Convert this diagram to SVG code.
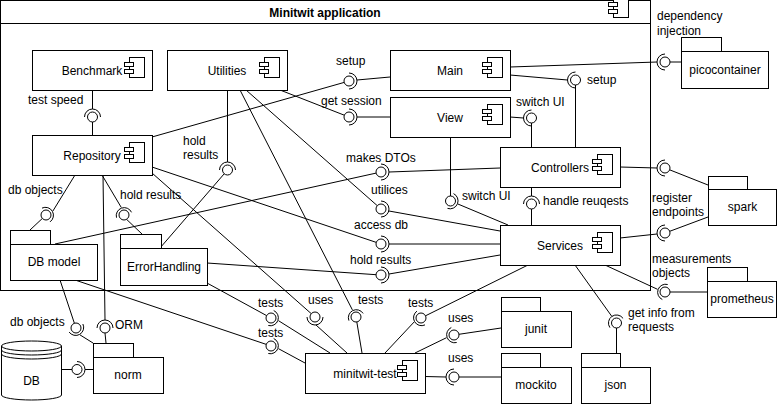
<svg xmlns="http://www.w3.org/2000/svg" width="778" height="404" viewBox="0 0 778 404">
<style>
.box{fill:#fff;stroke:#000;stroke-width:1}
.ln{fill:none;stroke:#000;stroke-width:1}
.ball{fill:#fff;stroke:#000;stroke-width:1}
.sock{fill:none;stroke:#000;stroke-width:1}
text{font-family:"Liberation Sans",Arial,Helvetica,sans-serif;font-size:12px;fill:#000}
.c{text-anchor:middle}
.b{font-weight:bold}
</style>
<defs>
<g id="cicon">
<rect x="5" y="0" width="15" height="20" class="box"/>
<rect x="0" y="5" width="9" height="4" class="box"/>
<rect x="0" y="12" width="9" height="4" class="box"/>
</g>
</defs>
<g id="frame">
<rect x="0.5" y="0.5" width="650" height="290" class="box"/>
<line x1="0.5" y1="23.5" x2="650.5" y2="23.5" class="ln"/>
<text x="325" y="17" class="c b">Minitwit application</text>
<use href="#cicon" x="608.5" y="-2.5"/>
</g>
<g id="connectors" class="ln">
<path d="M92.5,90 V109 M92.5,122 V135"/>
<path d="M390,77 L357,80 M152,137 L344.2,82.4"/>
<path d="M390,117 L357,117 M280,90 L344.3,115.2"/>
<path d="M510,67 L657,62 M670,62 L681,62"/>
<path d="M510,75 L567.5,80 M575.5,85 V147"/>
<path d="M510,117 L523.5,118 M531.5,123 V147"/>
<path d="M450.5,137 V196 M457.9,204 L508,225"/>
<path d="M531.5,187 V196 M531.5,209 V225"/>
<path d="M620,167 L657,168 M669.6,169.8 L708,185"/>
<path d="M620,238 L657,234 M669.7,231.3 L708,217"/>
<path d="M605,265 L657.5,289.3 M670,292 L707,292"/>
<path d="M575,265 L611.9,316.5 M616.5,328 V353"/>
<path d="M528,265 L425.5,315.8 M414.1,322 L385,353"/>
<path d="M240,90 L352.4,309.9 M356.8,321.9 L362,353"/>
<path d="M152,173 L311.3,313.7 M316,325 L347,353"/>
<path d="M207,283 L266.6,315.6 M278.5,320.7 L330,353"/>
<path d="M75,280 L266.3,344.4 M278.5,348.7 L305,363"/>
<path d="M415,353 L446.5,337.7 M458.9,334.3 L501,328"/>
<path d="M425,376.5 L446,377 M459,377 L501,377"/>
<path d="M55,244 L376.1,173.1 M389,172 L500,168"/>
<path d="M246,90 L377.3,205.7 M389,211 L500,231"/>
<path d="M152,167 L376.3,242.4 M389,244 L500,244"/>
<path d="M207,263 L376,274.7 M389,274 L500,255"/>
<path d="M227.5,90 V162 M224.2,173.8 L160,248"/>
<path d="M102,175 L121.3,207.5 M126.5,219.3 L142,234"/>
<path d="M75,175 L52.9,211 M42.4,218.4 L30,230"/>
<path d="M103,175 L105,320 M105,333 L106,343"/>
<path d="M60,280 L74.4,323.3 M80,334.9 L93,343"/>
<path d="M61,369.5 L72,369.5 M85,369.5 L93,369.5"/>
</g>
<g id="interfaces">
<g id="if-test-speed"><circle class="ball" cx="92.5" cy="117" r="5"/><path class="sock" d="M84.5,117 A8,8 0 0 1 100.5,117"/><text x="28" y="104">test speed</text></g>
<g id="if-setup-main"><circle class="ball" cx="349" cy="81" r="5"/><path class="sock" d="M349,73 A8,8 0 0 1 349,89"/><text x="336" y="65">setup</text></g>
<g id="if-get-session"><circle class="ball" cx="349" cy="117" r="5"/><path class="sock" d="M349,109 A8,8 0 0 1 349,125"/><text x="321" y="105">get session</text></g>
<g id="if-dependency-injection"><circle class="ball" cx="665" cy="62" r="5"/><path class="sock" d="M665,70 A8,8 0 0 1 665,54"/><text x="657" y="20">dependency</text><text x="657" y="34.5">injection</text></g>
<g id="if-setup-controllers"><circle class="ball" cx="575.5" cy="80" r="5"/><path class="sock" d="M575.5,88 A8,8 0 0 1 575.5,72"/><text x="587" y="84">setup</text></g>
<g id="if-switch-ui-controllers"><circle class="ball" cx="531.5" cy="118" r="5"/><path class="sock" d="M531.5,126 A8,8 0 0 1 531.5,110"/><text x="516" y="106">switch UI</text></g>
<g id="if-switch-ui-services"><circle class="ball" cx="450.5" cy="201" r="5"/><path class="sock" d="M453.5,193.6 A8,8 0 0 1 447.5,208.4"/><text x="462" y="200">switch UI</text></g>
<g id="if-handle-requests"><circle class="ball" cx="531.5" cy="204" r="5"/><path class="sock" d="M523.5,204 A8,8 0 0 1 539.5,204"/><text x="543" y="205">handle reuqests</text></g>
<g id="if-spark-controllers"><circle class="ball" cx="665" cy="168" r="5"/><path class="sock" d="M665,176 A8,8 0 0 1 665,160"/></g>
<g id="if-register-endpoints"><circle class="ball" cx="665" cy="233" r="5"/><path class="sock" d="M665,241 A8,8 0 0 1 665,225"/><text x="652" y="202">register</text><text x="652" y="216">endpoints</text></g>
<g id="if-measurements"><circle class="ball" cx="665" cy="292" r="5"/><path class="sock" d="M662.3,299.5 A8,8 0 0 1 667.7,284.5"/><text x="652" y="263">measurements</text><text x="652" y="277">objects</text></g>
<g id="if-get-info"><circle class="ball" cx="616.5" cy="323" r="5"/><path class="sock" d="M609.9,327.6 A8,8 0 0 1 623.1,318.4"/><text x="628" y="317">get info from</text><text x="628" y="331">requests</text></g>
<g id="if-tests-services"><circle class="ball" cx="421" cy="318" r="5"/><path class="sock" d="M425,324.9 A8,8 0 0 1 417,311.1"/><text x="408" y="307">tests</text></g>
<g id="if-tests-utilities"><circle class="ball" cx="356" cy="317" r="5"/><path class="sock" d="M348.9,320.6 A8,8 0 0 1 363.1,313.4"/><text x="358" y="304">tests</text></g>
<g id="if-uses-repository"><circle class="ball" cx="315" cy="317" r="5"/><path class="sock" d="M323,317 A8,8 0 0 1 307,317"/><text x="308" y="304">uses</text></g>
<g id="if-tests-errorhandling"><circle class="ball" cx="271" cy="318" r="5"/><path class="sock" d="M273.7,310.5 A8,8 0 0 1 268.3,325.5"/><text x="258" y="307">tests</text></g>
<g id="if-tests-dbmodel"><circle class="ball" cx="271" cy="346" r="5"/><path class="sock" d="M273.7,338.5 A8,8 0 0 1 268.3,353.5"/><text x="258" y="337">tests</text></g>
<g id="if-uses-junit"><circle class="ball" cx="454" cy="335" r="5"/><path class="sock" d="M456.7,342.5 A8,8 0 0 1 451.3,327.5"/><text x="448" y="322">uses</text></g>
<g id="if-uses-mockito"><circle class="ball" cx="454" cy="377" r="5"/><path class="sock" d="M454,385 A8,8 0 0 1 454,369"/><text x="448" y="362">uses</text></g>
<g id="if-makes-dtos"><circle class="ball" cx="381" cy="172" r="5"/><path class="sock" d="M381,164 A8,8 0 0 1 381,180"/><text x="346" y="162">makes DTOs</text></g>
<g id="if-utilices"><circle class="ball" cx="381" cy="209" r="5"/><path class="sock" d="M381,201 A8,8 0 0 1 381,217"/><text x="371" y="194">utilices</text></g>
<g id="if-access-db"><circle class="ball" cx="381" cy="244" r="5"/><path class="sock" d="M381,236 A8,8 0 0 1 381,252"/><text x="354" y="229">access db</text></g>
<g id="if-hold-results-services"><circle class="ball" cx="381" cy="275" r="5"/><path class="sock" d="M381,267 A8,8 0 0 1 381,283"/><text x="350" y="264">hold results</text></g>
<g id="if-hold-results-utilities"><circle class="ball" cx="227.5" cy="170" r="5"/><path class="sock" d="M219.5,170 A8,8 0 0 1 235.5,170"/><text x="183" y="145">hold</text><text x="183" y="159">results</text></g>
<g id="if-hold-results-repository"><circle class="ball" cx="124" cy="215" r="5"/><path class="sock" d="M116.5,217.7 A8,8 0 0 1 131.5,212.3"/><text x="120" y="199">hold results</text></g>
<g id="if-db-objects-repository"><circle class="ball" cx="46" cy="215" r="5"/><path class="sock" d="M42,208.1 A8,8 0 0 1 50,221.9"/><text x="8" y="194">db objects</text></g>
<g id="if-orm"><circle class="ball" cx="105" cy="328" r="5"/><path class="sock" d="M97,328 A8,8 0 0 1 113,328"/><text x="115" y="329">ORM</text></g>
<g id="if-db-objects-norm"><circle class="ball" cx="76" cy="328" r="5"/><path class="sock" d="M82.9,324 A8,8 0 0 1 69.1,332"/><text x="10" y="326">db objects</text></g>
<g id="if-db-norm"><circle class="ball" cx="77" cy="369.5" r="5"/><path class="sock" d="M77,361.5 A8,8 0 0 1 77,377.5"/></g>
</g>
<g id="benchmark"><rect class="box" x="32.5" y="50.5" width="120" height="40"/><text x="92" y="74.5" class="c">Benchmark</text><use href="#cicon" x="124.5" y="57.5"/></g>
<g id="utilities"><rect class="box" x="167.5" y="50.5" width="120" height="40"/><text x="227" y="74.5" class="c">Utilities</text><use href="#cicon" x="259.5" y="57.5"/></g>
<g id="main"><rect class="box" x="390.5" y="50.5" width="120" height="40"/><text x="450" y="74.5" class="c">Main</text><use href="#cicon" x="482.5" y="57.5"/></g>
<g id="view"><rect class="box" x="390.5" y="97.5" width="120" height="40"/><text x="450" y="121.5" class="c">View</text><use href="#cicon" x="482.5" y="104.5"/></g>
<g id="repository"><rect class="box" x="32.5" y="135.5" width="120" height="40"/><text x="92" y="159.5" class="c">Repository</text><use href="#cicon" x="124.5" y="142.5"/></g>
<g id="controllers"><rect class="box" x="500.5" y="147.5" width="120" height="40"/><text x="560" y="171.5" class="c">Controllers</text><use href="#cicon" x="592.5" y="154.5"/></g>
<g id="services"><rect class="box" x="500.5" y="225.5" width="120" height="40"/><text x="560" y="249.5" class="c">Services</text><use href="#cicon" x="592.5" y="232.5"/></g>
<g id="minitwit-test"><rect class="box" x="305.5" y="353.5" width="120" height="40"/><text x="365" y="377.5" class="c">minitwit-test</text><use href="#cicon" x="397.5" y="360.5"/></g>
<g id="db-model"><rect class="box" x="10.5" y="230.5" width="40" height="14"/><rect class="box" x="10.5" y="244.5" width="87" height="36"/><text x="54" y="266" class="c">DB model</text></g>
<g id="errorhandling"><rect class="box" x="120.5" y="234.5" width="41" height="14"/><rect class="box" x="120.5" y="248.5" width="87" height="37"/><text x="164" y="271" class="c">ErrorHandling</text></g>
<g id="picocontainer"><rect class="box" x="681.5" y="37.5" width="40" height="14"/><rect class="box" x="681.5" y="51.5" width="87" height="37"/><text x="725" y="74" class="c">picocontainer</text></g>
<g id="spark"><rect class="box" x="708.5" y="176.5" width="39" height="13"/><rect class="box" x="708.5" y="189.5" width="68" height="36"/><text x="742.5" y="211" class="c">spark</text></g>
<g id="prometheus"><rect class="box" x="707.5" y="267.5" width="40" height="14"/><rect class="box" x="707.5" y="281.5" width="69" height="36"/><text x="742" y="302.5" class="c">prometheus</text></g>
<g id="junit"><rect class="box" x="501.5" y="297.5" width="39" height="14"/><rect class="box" x="501.5" y="311.5" width="70" height="36"/><text x="536" y="333" class="c">junit</text></g>
<g id="mockito"><rect class="box" x="501.5" y="353.5" width="39" height="14"/><rect class="box" x="501.5" y="367.5" width="70" height="36"/><text x="536" y="389" class="c">mockito</text></g>
<g id="json"><rect class="box" x="581.5" y="353.5" width="39" height="14"/><rect class="box" x="581.5" y="367.5" width="69" height="36"/><text x="615.5" y="389" class="c">json</text></g>
<g id="norm"><rect class="box" x="93.5" y="343.5" width="40" height="14"/><rect class="box" x="93.5" y="357.5" width="70" height="36"/><text x="128" y="379" class="c">norm</text></g>
<g id="db">
<path class="box" d="M1.5,346 A30,5 0 0 1 61.5,346 V395 A30,5 0 0 1 1.5,395 Z"/>
<path class="ln" d="M1.5,346 A30,5 0 0 0 61.5,346 M1.5,350 A30,5 0 0 0 61.5,350 M1.5,354 A30,5 0 0 0 61.5,354"/>
<text x="31.5" y="385" class="c">DB</text>
</g>
</svg>
